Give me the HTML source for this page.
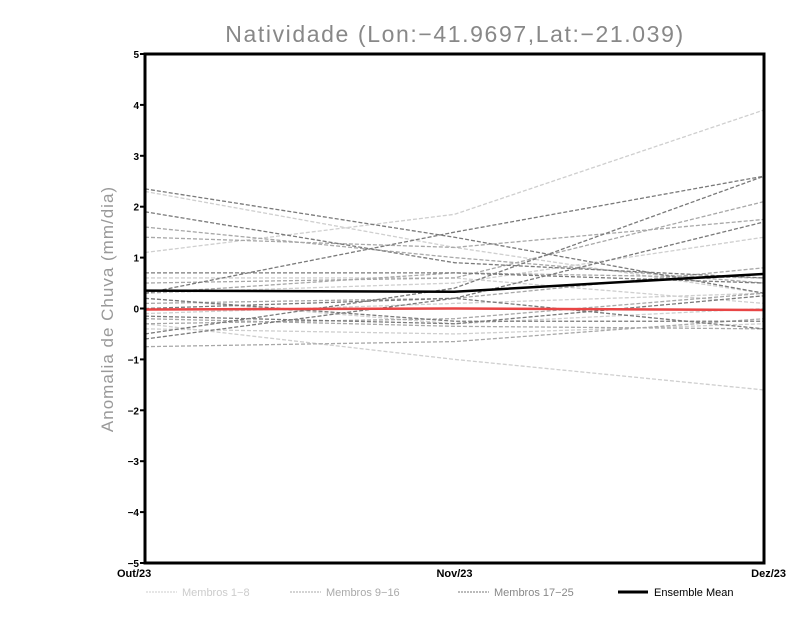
<!DOCTYPE html>
<html><head><meta charset="utf-8"><style>
body{margin:0;background:#fff;width:800px;height:618px;overflow:hidden}
svg{display:block}
</style></head><body>
<svg id="chart" width="800" height="618" xmlns="http://www.w3.org/2000/svg">
<text x="455" y="42" text-anchor="middle" font-family="Liberation Sans, sans-serif" font-size="23" fill="#888" letter-spacing="1.6">Natividade (Lon:−41.9697,Lat:−21.039)</text>
<text transform="translate(113,309) rotate(-90)" text-anchor="middle" font-family="Liberation Sans, sans-serif" font-size="17" fill="#999" letter-spacing="1">Anomalia de Chuva (mm/dia)</text>
<g id="marks"></g>
<rect x="145" y="54" width="619" height="509" fill="none" stroke="#000" stroke-width="3"/>
<g id="axes"></g>
<g id="legend" font-family="Liberation Sans, sans-serif" font-size="11">
<line x1="146" y1="592" x2="177" y2="592" stroke="#ccc" stroke-dasharray="2,1"/>
<text x="182" y="596" fill="#ccc">Membros 1−8</text>
<line x1="290" y1="592" x2="321" y2="592" stroke="#aaa" stroke-dasharray="2,1"/>
<text x="326" y="596" fill="#aaa">Membros 9−16</text>
<line x1="458" y1="592" x2="489" y2="592" stroke="#777" stroke-dasharray="2,1"/>
<text x="494" y="596" fill="#888">Membros 17−25</text>
<line x1="618" y1="592" x2="648" y2="592" stroke="#000" stroke-width="3"/>
<text x="654" y="596" fill="#000">Ensemble Mean</text>
</g>
</svg>
<script>
const categories=["Out/23","Nov/23","Dez/23"];
const yTicks=[5,4,3,2,1,0,-1,-2,-3,-4,-5];
const members1to8=[[2.3,1.2,0.3],[1.1,1.85,3.9],[0.3,0.5,1.4],[-0.3,-1.0,-1.6],[0.6,0.6,0.1],[-0.4,-0.5,-0.3],[-0.1,0.1,0.3],[0.2,-0.3,0.0]];
const members9to16=[[1.6,1.0,0.5],[1.4,1.2,1.75],[0.5,0.6,2.1],[-0.75,-0.65,-0.2],[0.1,0.2,0.8],[-0.3,-0.2,0.3],[0.3,0.7,0.6],[-0.2,-0.35,-0.4]];
const members17to25=[[2.35,1.4,0.3],[1.9,0.9,0.6],[0.7,0.7,0.5],[-0.5,0.4,2.6],[0.3,1.5,2.6],[-0.15,-0.3,0.25],[0.0,0.2,-0.4],[-0.6,0.2,1.7],[0.2,-0.25,-0.25]];
const redSeries=[-0.02,0.0,-0.03];
const ensembleMean=[0.35,0.33,0.68];
const NS="http://www.w3.org/2000/svg";
const X0=145,X1=764,Y0=54,Y1=563,YMIN=-5,YMAX=5;
function xs(i){return X0+(X1-X0)*i/(categories.length-1);}
function ys(v){return Y1-(v-YMIN)/(YMAX-YMIN)*(Y1-Y0);}
const marks=document.getElementById('marks');
function line(vals,color,w,dash,name){
 const p=document.createElementNS(NS,'polyline');
 p.setAttribute('points',vals.map((v,i)=>xs(i)+','+ys(v)).join(' '));
 p.setAttribute('fill','none');p.setAttribute('stroke',color);p.setAttribute('stroke-width',w);
 if(dash)p.setAttribute('stroke-dasharray',dash);
 
 
 marks.appendChild(p);
}
members1to8.forEach((m,i)=>line(m,'#cfcfcf',1.3,'4,2','member-'+(i+1)+'-line'));
members9to16.forEach((m,i)=>line(m,'#a8a8a8',1.3,'4,2','member-'+(i+9)+'-line'));
members17to25.forEach((m,i)=>line(m,'#7a7a7a',1.3,'4,2','member-'+(i+17)+'-line'));
line(redSeries,'#e84545',2.5,null,'red-reference-line');
line(ensembleMean,'#000',2.5,null,'ensemble-mean-line');
const axes=document.getElementById('axes');
yTicks.forEach(t=>{
 const l=document.createElementNS(NS,'line');
 l.setAttribute('x1',X0-5);l.setAttribute('x2',X0);l.setAttribute('y1',ys(t));l.setAttribute('y2',ys(t));
 l.setAttribute('stroke','#000');l.setAttribute('stroke-width',2);
 
 
 axes.appendChild(l);
 const tx=document.createElementNS(NS,'text');
 tx.setAttribute('x',X0-6);tx.setAttribute('y',ys(t)+4);tx.setAttribute('text-anchor','end');
 tx.setAttribute('font-family','Liberation Sans, sans-serif');tx.setAttribute('font-size','10');tx.setAttribute('font-weight','bold');
 tx.textContent=t<0?'−'+(-t):String(t);
 
 
 axes.appendChild(tx);
});
categories.forEach((c,i)=>{
 const tx=document.createElementNS(NS,'text');
 const anchor=i===0?'start':(i===categories.length-1?'end':'middle');
 let x=xs(i);
 if(i===0)x=117;
 if(i===categories.length-1)x=786;
 tx.setAttribute('x',x);
 tx.setAttribute('y',577);tx.setAttribute('text-anchor',anchor);
 tx.setAttribute('font-family','Liberation Sans, sans-serif');tx.setAttribute('font-size','11');tx.setAttribute('font-weight','bold');
 tx.textContent=c;
 
 
 axes.appendChild(tx);
});
</script>
</body></html>
